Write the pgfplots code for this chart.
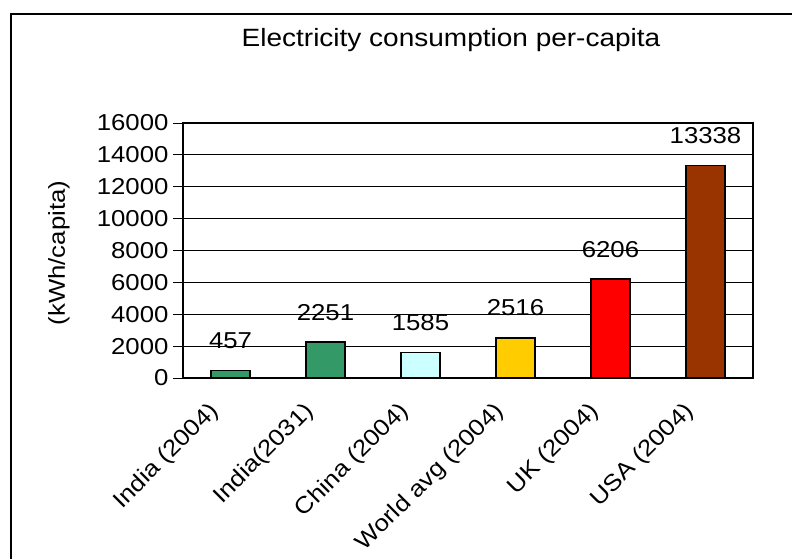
\documentclass[border=0pt]{standalone}
\usepackage{pgfplots}
\pgfplotsset{compat=1.18}
\usepackage{fontspec}
\setmainfont{Liberation Sans}[FakeStretch=1.12]

\definecolor{barGreen}{RGB}{51,153,102}
\definecolor{barCyan}{RGB}{204,255,255}
\definecolor{barGold}{RGB}{255,204,0}
\definecolor{barRed}{RGB}{255,0,0}
\definecolor{barBrown}{RGB}{153,51,0}

\newcommand{\chartfont}{\fontsize{23}{27}\selectfont}

\begin{document}
\begin{tikzpicture}[x=1pt,y=1pt]
\useasboundingbox (0,0) rectangle (792,558);
\fill[white] (0,0) rectangle (792,558);
% chart area frame
\draw[line width=1.5pt] (11,-5) -- (11,544) -- (800,544);
\node[anchor=base, font=\fontsize{25}{30}\selectfont] at (451,511) {Electricity consumption per-capita};
\node[rotate=90, font=\chartfont] at (59,305) {(kWh/capita)};
\begin{axis}[
  at={(183pt,180pt)}, anchor=south west,
  width=570pt, height=255pt, scale only axis,
  xmin=-0.5, xmax=5.5, ymin=0, ymax=16000,
  ytick distance=2000,
  ytick pos=left,
  scaled y ticks=false,
  /pgf/number format/.cd, 1000 sep={}, assume math mode=true, /pgfplots/.cd,
  xtick={0,...,5},
  xticklabels={India (2004), India(2031), China (2004), World avg (2004), UK (2004), USA (2004)},
  x tick style={draw=none},
  y tick style={black, line width=1pt},
  tick align=outside,
  major tick length=10pt,
  ymajorgrids,
  grid style={black, line width=0.8pt},
  axis line style={line width=1.3pt},
  ticklabel style={font=\chartfont},
  yticklabel style={xshift=-1pt},
  xticklabel style={xshift=-23pt, yshift=-12pt, rotate=45, anchor=north east, inner sep=0pt},
  ybar, bar width=39pt, bar shift=0pt,
  nodes near coords,
  nodes near coords style={font=\chartfont, anchor=base, yshift=22pt, inner sep=0pt},
  every axis plot/.append style={draw=black, line width=1.3pt},
]
\addplot[fill=barGreen] coordinates {(0,457)};
\addplot[fill=barGreen] coordinates {(1,2251)};
\addplot[fill=barCyan] coordinates {(2,1585)};
\addplot[fill=barGold] coordinates {(3,2516)};
\addplot[fill=barRed] coordinates {(4,6206)};
\addplot[fill=barBrown] coordinates {(5,13338)};
\end{axis}
\end{tikzpicture}
\end{document}
